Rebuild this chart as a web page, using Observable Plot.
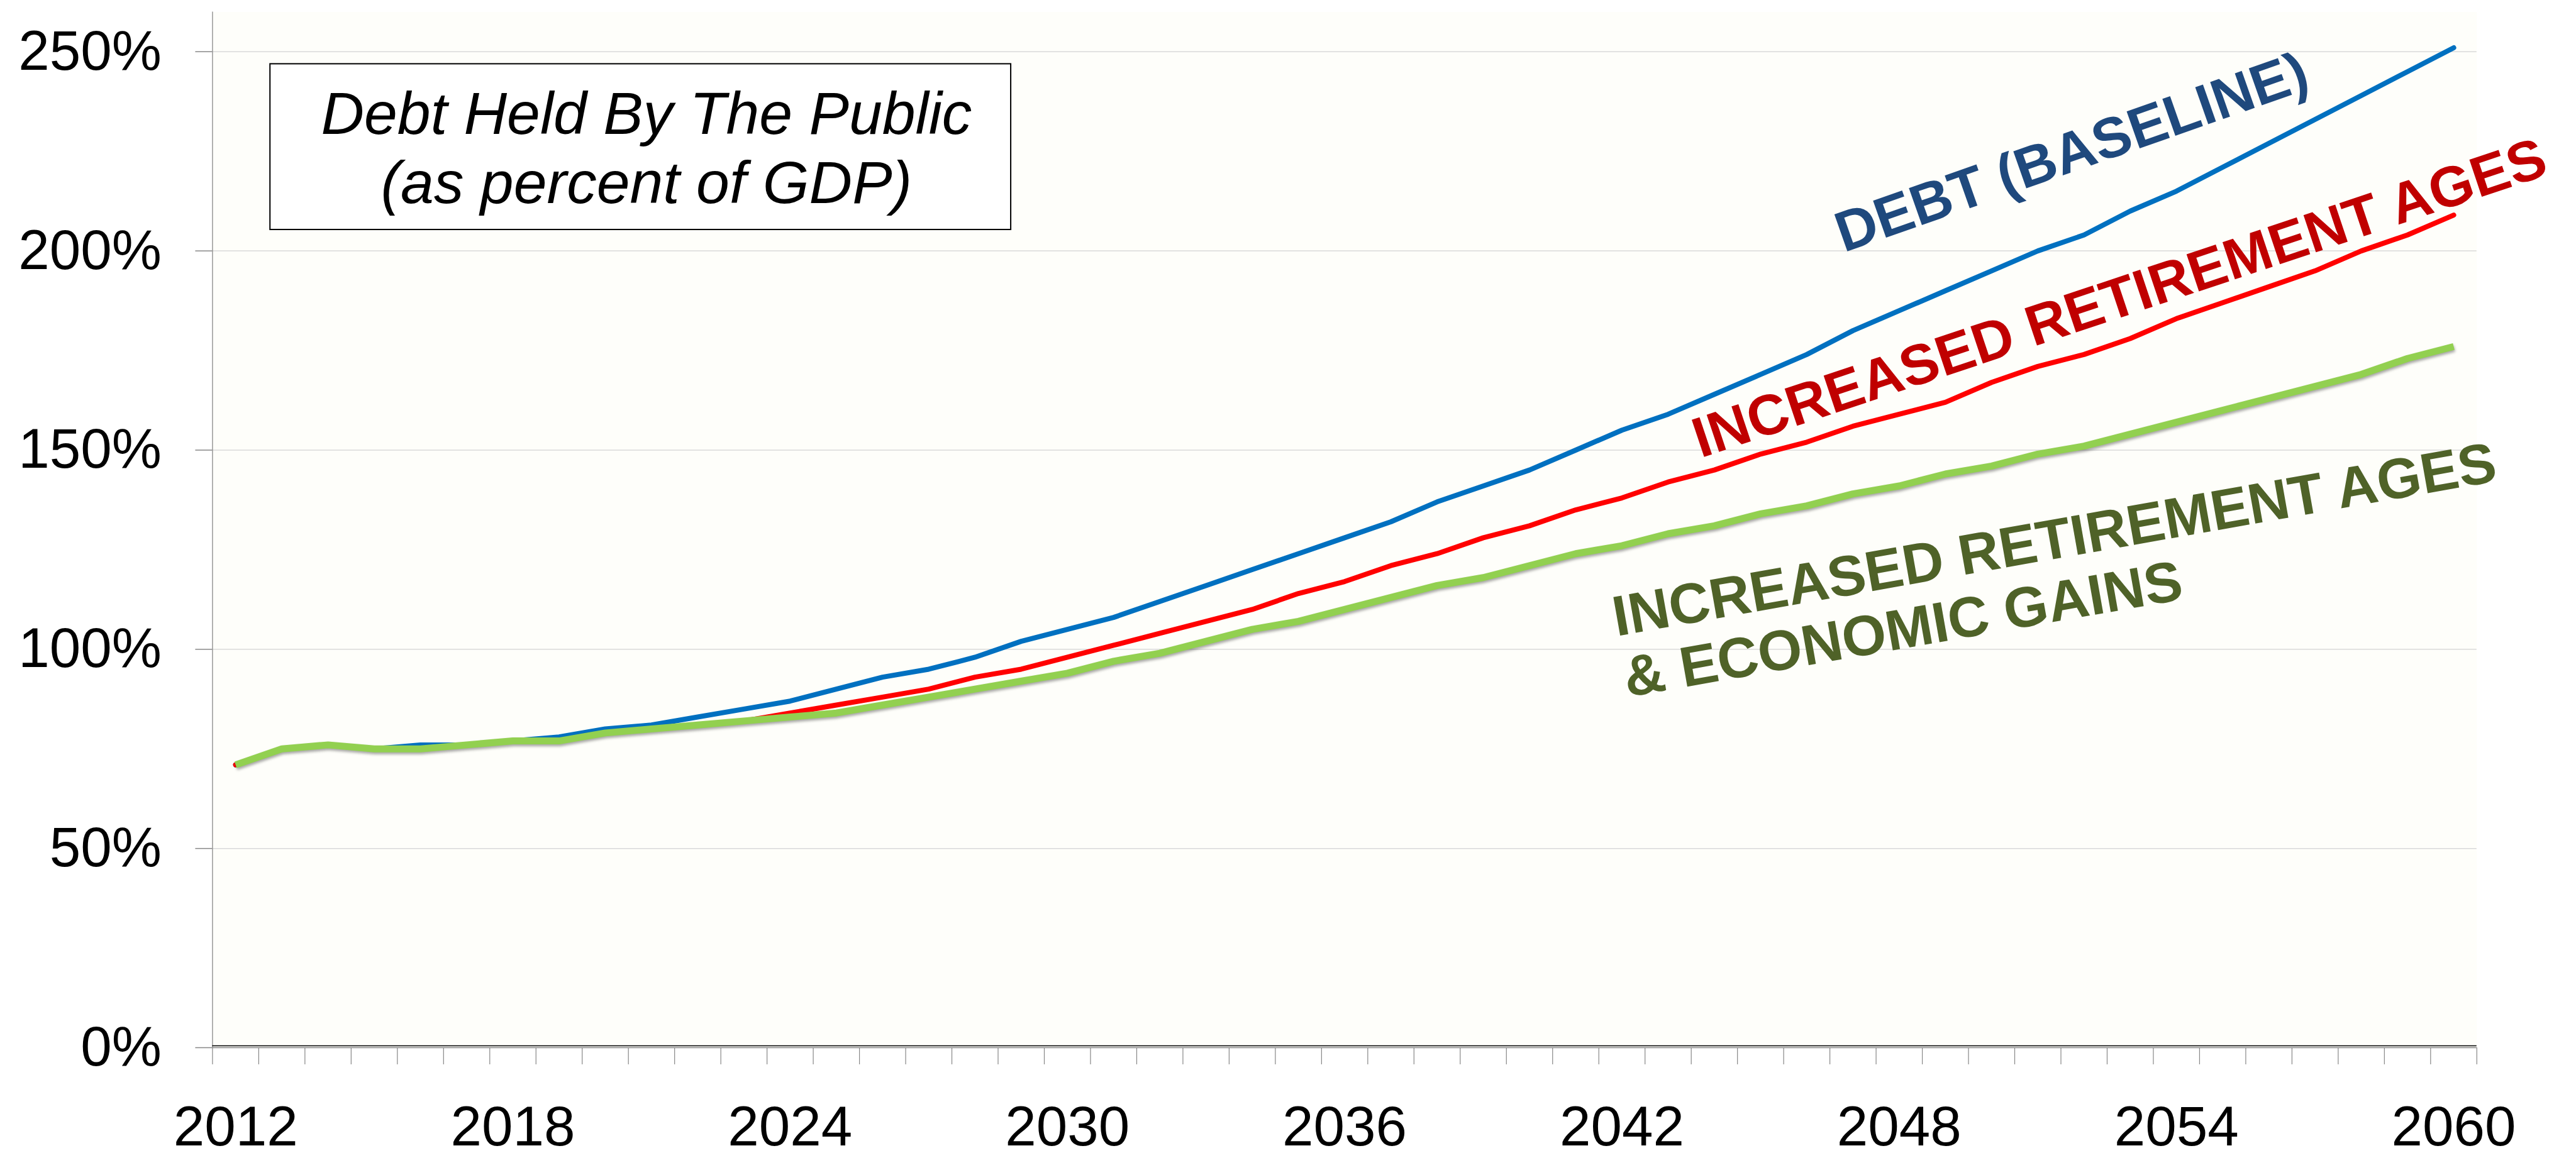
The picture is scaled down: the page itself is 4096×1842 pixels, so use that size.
<!DOCTYPE html>
<html>
<head>
<meta charset="utf-8">
<script src="https://cdn.jsdelivr.net/npm/d3@7"></script>
<script src="https://cdn.jsdelivr.net/npm/@observablehq/plot@0.6"></script>
<style>
  html, body { margin: 0; padding: 0; background: #ffffff; }
  #chart { width: 4096px; height: 1842px; overflow: hidden; }
</style>
</head>
<body>
<div id="chart"></div>
<script>
// ---- categories ----
const years = [2012,2013,2014,2015,2016,2017,2018,2019,2020,2021,
               2022,2023,2024,2025,2026,2027,2028,2029,2030,2031,
               2032,2033,2034,2035,2036,2037,2038,2039,2040,2041,
               2042,2043,2044,2045,2046,2047,2048,2049,2050,2051,
               2052,2053,2054,2055,2056,2057,2058,2059,2060];

// ---- series values (debt held by the public, % of GDP) ----
const debtBaseline = [71,75,76,75,76,76,77,78,80,81,
                      83,85,87,90,93,95,98,102,105,108,
                      112,116,120,124,128,132,137,141,145,150,
                      155,159,164,169,174,180,185,190,195,200,
                      204,210,215,221,227,233,239,245,251];
const increasedRetirementAges = [71,75,76,75,75,76,77,77,79,80,
                      81,82,84,86,88,90,93,95,98,101,
                      104,107,110,114,117,121,124,128,131,135,
                      138,142,145,149,152,156,159,162,167,171,
                      174,178,183,187,191,195,200,204,209];
const retirementAgesEconomicGains = [71,75,76,75,75,76,77,77,79,80,
                      81,82,83,84,86,88,90,92,94,97,
                      99,102,105,107,110,113,116,118,121,124,
                      126,129,131,134,136,139,141,144,146,149,
                      151,154,157,160,163,166,169,173,176];

// ---- tick labels ----
const yTicks = [0, 50, 100, 150, 200, 250];
const xTickLabels = [2012, 2018, 2024, 2030, 2036, 2042, 2048, 2054, 2060];

// ---- texts ----
const titleLines = ["Debt Held By The Public", "(as percent of GDP)"];
const seriesLabels = ["DEBT (BASELINE)", "INCREASED RETIREMENT AGES", "INCREASED RETIREMENT AGES", "& ECONOMIC GAINS"];

// ---- annotation anchors, in data units (year, percent) ----
const titleBox = {x1: 2012.75, x2: 2028.78, y1: 205.3, y2: 246.9};
const titleAnchors = [{x: 2020.89, y: 229.3}, {x: 2020.89, y: 212.0}];
const labelAnchors = [
  {x: 2046.80, y: 199.6, rotate: -19.4, color: "#1F497D"},
  {x: 2043.70, y: 148.0, rotate: -18.5, color: "#C00000"},
  {x: 2041.88, y: 103.3, rotate: -10.0, color: "#4F6228"},
  {x: 2042.12, y: 88.0,  rotate: -10.0, color: "#4F6228"}
];

// table built from the arrays
const rows = years.map((yr, i) => ({
  year: yr,
  baseline: debtBaseline[i],
  retire: increasedRetirementAges[i],
  gains: retirementAgesEconomicGains[i]
}));
const boundaries = years.map(y => y - 0.5).concat([years[years.length - 1] + 0.5]);
const titleData = titleLines.map((t, i) => ({text: t, ...titleAnchors[i]}));
const labelData = seriesLabels.map((t, i) => ({text: t, ...labelAnchors[i]}));

const FONT = "'Liberation Sans', Arial, Helvetica, sans-serif";
const GRAY = "#878787";

const chart = Plot.plot({
  width: 4096,
  height: 1842,
  marginTop: 18.4,
  marginBottom: 176,
  marginLeft: 337.4,
  marginRight: 158.2,
  x: {domain: [years[0] - 0.5, years[years.length - 1] + 0.5]},
  y: {domain: [0, 260]},
  style: {fontFamily: FONT, fontSize: "89px", background: "#ffffff", color: "#000000", overflow: "visible"},
  marks: [
    Plot.frame({fill: "#FEFEFA", stroke: null}),
    Plot.gridY(yTicks.filter(d => d > 0), {stroke: "#D9D9D9", strokeOpacity: 1, strokeWidth: 1.5}),
    Plot.ruleX([years[0] - 0.5], {stroke: GRAY, strokeWidth: 1.3}),
    Plot.axisY(yTicks, {tickSize: 27, tickPadding: 54, tickFormat: d => d + "%", stroke: GRAY, strokeWidth: 1.5, fill: "#000", label: null}),
    Plot.axisX(boundaries, {tickSize: 27, tickFormat: () => "", stroke: GRAY, strokeWidth: 1.2, label: null}),
    Plot.axisX(xTickLabels, {tickSize: 0, tickPadding: 92, tickFormat: d => String(d), fill: "#000", label: null}),
    Plot.ruleY([0], {stroke: GRAY, strokeWidth: 1.5}),
    Plot.ruleY([0], {stroke: "#000", strokeWidth: 1.6, dy: -3}),

    // title box
    Plot.rect([titleBox], {x1: "x1", x2: "x2", y1: "y1", y2: "y2", fill: "#ffffff", stroke: "#000", strokeWidth: 2}),
    Plot.text(titleData, {x: "x", y: "y", text: "text", fontSize: 95, fontStyle: "italic", textAnchor: "middle", lineAnchor: "bottom", fill: "#000"}),

    // series lines
    Plot.line(rows, {x: "year", y: "baseline", stroke: "#0070C0", strokeWidth: 8, strokeLinecap: "round", strokeLinejoin: "round"}),
    Plot.line(rows, {x: "year", y: "retire", stroke: "#FF0000", strokeWidth: 8, strokeLinecap: "round", strokeLinejoin: "round"}),
    Plot.line(rows, {x: "year", y: "gains", stroke: "#92D050", strokeWidth: 11, strokeLinecap: "butt", strokeLinejoin: "miter"}),

    // series labels
    Plot.text(labelData, {x: "x", y: "y", text: "text", rotate: "rotate", fill: "color", fontSize: 90.5, fontWeight: "bold", textAnchor: "start", lineAnchor: "bottom"})
  ]
});

// soft shadow under the green line as in the original
const greenG = chart.querySelector('g[stroke="#92D050"]');
if (greenG) greenG.setAttribute("style", "filter: drop-shadow(1px 3px 2px rgba(0,0,0,0.35))");

document.getElementById("chart").appendChild(chart);
</script>
</body>
</html>
